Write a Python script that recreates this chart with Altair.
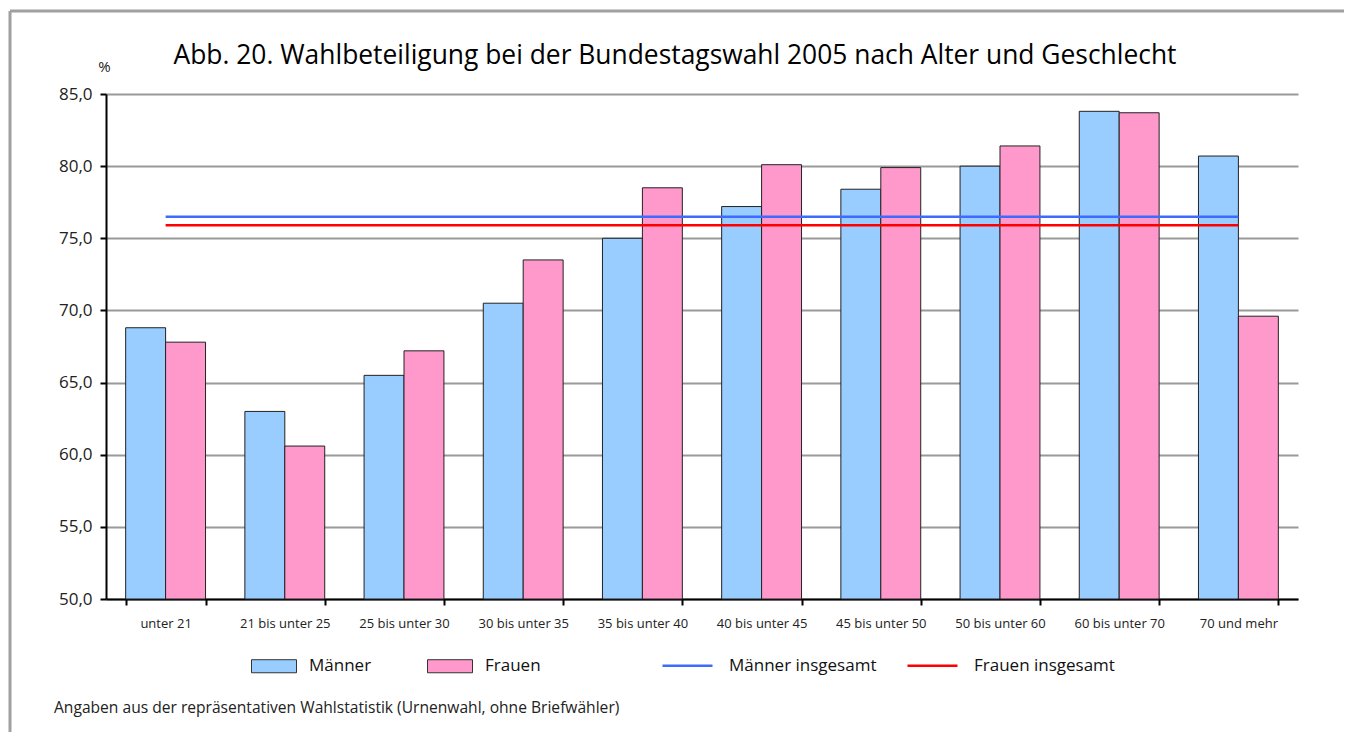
import altair as alt
import pandas as pd

categories = ["unter 21", "21 bis unter 25", "25 bis unter 30", "30 bis unter 35",
              "35 bis unter 40", "40 bis unter 45", "45 bis unter 50", "50 bis unter 60",
              "60 bis unter 70", "70 und mehr"]
maenner = [68.8, 63.0, 65.5, 70.5, 75.0, 77.2, 78.4, 80.0, 83.8, 80.7]
frauen = [67.8, 60.6, 67.2, 73.5, 78.5, 80.1, 79.9, 81.4, 83.7, 69.6]
series = ["Männer", "Frauen"]
series_colors = ["#99CCFF", "#FF99CC"]
total_series = ["Männer insgesamt", "Frauen insgesamt"]
total_values = [76.5, 75.9]
total_colors = ["#3D6BFF", "#FF0000"]
y_ticks = [50, 55, 60, 65, 70, 75, 80, 85]
title_text = ["Abb. 20. Wahlbeteiligung bei der Bundestagswahl 2005 nach Alter und Geschlecht"]
footnote = ["Angaben aus der repräsentativen Wahlstatistik (Urnenwahl, ohne Briefwähler)"]

rows = []
for c, m, f in zip(categories, maenner, frauen):
    rows.append({"Alter": c, "Geschlecht": series[0], "Wert": m})
    rows.append({"Alter": c, "Geschlecht": series[1], "Wert": f})
bars_df = pd.DataFrame(rows)
totals_df = pd.DataFrame({"Reihe": total_series, "Wert": total_values,
                          "von": [categories[0]] * 2, "bis": [categories[-1]] * 2})
one = pd.DataFrame({"k": [0]})

W, H = 1192, 505
FONT = "Open Sans"

x_scale = alt.Scale(domain=categories, paddingInner=0.33, paddingOuter=0.165)
y_scale = alt.Scale(domain=[50, 85], nice=False, zero=False)

x_axis = alt.Axis(title=None, labelAngle=0, tickBand="extent", domainColor="#000000",
                  domainWidth=2, tickColor="#000000", tickWidth=2, tickSize=6,
                  labelFontSize=13, labelPadding=12, labelColor="#222222", grid=False,
                  labelFont=FONT)
y_axis = alt.Axis(values=y_ticks, title="%", titleAngle=0, titleX=-2, titleY=-28,
                  titleAlign="center", titleBaseline="middle", titleFontSize=15,
                  titleFontWeight="normal", titleColor="#222222", titleFont=FONT,
                  labelExpr="replace(format(datum.value, '.1f'), '.', ',')",
                  gridColor="#999999", gridWidth=2, domainColor="#000000", domainWidth=2,
                  tickColor="#000000", tickWidth=2, tickSize=6, labelFontSize=17,
                  labelPadding=8, labelColor="#222222", labelFont=FONT)

bars = alt.Chart(bars_df).mark_bar(stroke="#222222", strokeWidth=1, opacity=1).encode(
    x=alt.X("Alter:N", scale=x_scale, sort=categories, axis=x_axis),
    xOffset=alt.XOffset("Geschlecht:N", sort=series,
                        scale=alt.Scale(domain=series, paddingInner=0, paddingOuter=0)),
    y=alt.Y("Wert:Q", scale=y_scale, axis=y_axis),
    y2=alt.datum(50),
    fill=alt.Fill("Geschlecht:N", scale=alt.Scale(domain=series, range=series_colors),
                  legend=alt.Legend(title=None, orient="none", legendX=145, legendY=549,
                                    direction="horizontal",
                                    symbolType="M-1,-0.29H1V0.29H-1Z", symbolSize=2025,
                                    symbolStrokeColor="#333333", symbolStrokeWidth=1,
                                    symbolOpacity=1, labelFontSize=17, labelOffset=12,
                                    columnPadding=53, labelColor="#111111",
                                    labelFont=FONT)),
)

rules = alt.Chart(totals_df).mark_rule(strokeWidth=2.5).encode(
    x=alt.X("von:N", scale=x_scale, axis=x_axis),
    x2="bis:N",
    y=alt.Y("Wert:Q", scale=y_scale, axis=y_axis),
    stroke=alt.Stroke("Reihe:N", scale=alt.Scale(domain=total_series, range=total_colors),
                      legend=alt.Legend(title=None, orient="none", legendX=555, legendY=545,
                                        direction="horizontal", symbolType="stroke",
                                        symbolSize=2500, symbolStrokeWidth=2.5,
                                        labelFontSize=17, labelOffset=15, columnPadding=25,
                                        labelColor="#111111", labelFont=FONT)),
)

frame_top = alt.Chart(one).mark_rule(color="#A0A0A0", strokeWidth=3).encode(
    x=alt.value(-96), x2=alt.value(1238), y=alt.value(-83))
frame_left = alt.Chart(one).mark_rule(color="#A0A0A0", strokeWidth=3).encode(
    x=alt.value(-96), y=alt.value(-83), y2=alt.value(638))

title = alt.Chart(pd.DataFrame({"t": title_text})).mark_text(
    align="center", baseline="alphabetic", fontSize=26.4, color="#000000", font=FONT).encode(
    x=alt.value(569), y=alt.value(-30), text="t:N")

foot = alt.Chart(pd.DataFrame({"t": footnote})).mark_text(
    align="left", baseline="middle", fontSize=15.6, color="#222222", font=FONT).encode(
    x=alt.value(-52), y=alt.value(614), text="t:N")

chart = alt.layer(bars, rules, frame_top, frame_left, title, foot).properties(
    width=W, height=H,
    padding={"left": 0, "top": 1, "right": 0, "bottom": 0},
).configure_view(stroke=None)

chart.save("out.html", embed_options={"renderer": "svg", "actions": False})
